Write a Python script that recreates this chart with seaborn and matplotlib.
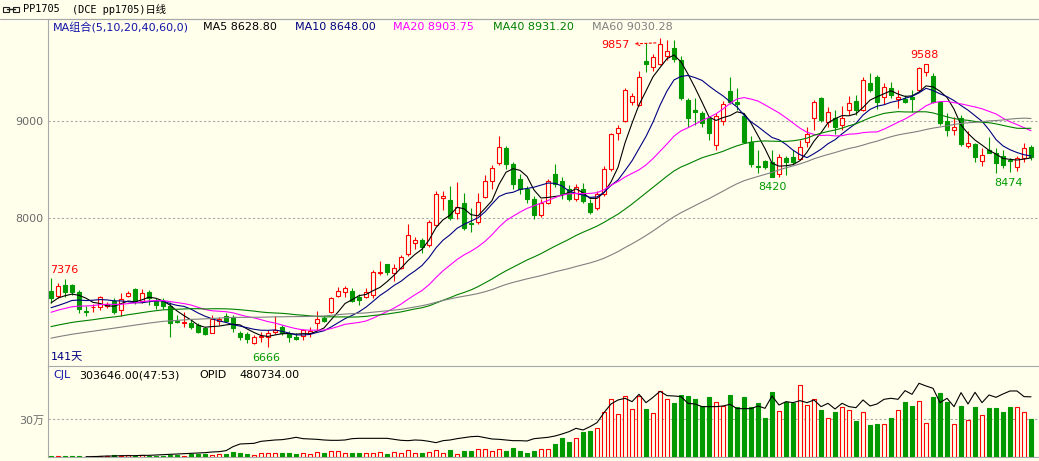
import numpy as np
import pandas as pd
import matplotlib
matplotlib.use("Agg")
import matplotlib.pyplot as plt
from matplotlib.patches import Rectangle
from matplotlib.lines import Line2D
from matplotlib.transforms import offset_copy
import seaborn as sns

# ---------------- data ----------------
opens = [7247, 7199, 7309, 7309, 7240, 7044, 7080, 7080, 7096, 7144,
         7052, 7199, 7268, 7144, 7240, 7144, 7144, 7093, 6938, 6921,
         6914, 6897, 6863, 6811, 6942, 6990, 6983, 6811, 6801, 6715,
         6770, 6777, 6825, 6873, 6801, 6777, 6787, 6811, 6914, 6973,
         7034, 7196, 7234, 7250, 7189, 7189, 7206, 7433, 7522, 7430,
         7481, 7626, 7740, 7773, 7722, 7928, 8203, 8186, 8049, 8151,
         7952, 7955, 8220, 8385, 8567, 8720, 8560, 8400, 8300, 8200,
         8030, 8150, 8450, 8380, 8300, 8200, 8300, 8150, 8100, 8250,
         8500, 8873, 9003, 9200, 9165, 9618, 9553, 9584, 9673, 9750,
         9629, 9216, 9113, 9079, 9028, 8750, 9003, 9310, 9200, 9052,
         8787, 8540, 8590, 8580, 8454, 8615, 8632, 8606, 8787, 9028,
         9234, 8993, 9028, 8959, 9113, 9206, 9113, 9389, 9450, 9250,
         9337, 9230, 9225, 9250, 9320, 9500, 9467, 9200, 9003, 8907,
         9028, 8742, 8763, 8590, 8700, 8667, 8640, 8600, 8523, 8615,
         8735]
highs = [7376, 7330, 7371, 7320, 7258, 7096, 7110, 7196, 7137, 7178,
         7224, 7247, 7275, 7265, 7258, 7172, 7172, 7137, 7000, 7028,
         6948, 6921, 6880, 7000, 6976, 7017, 7000, 6838, 6828, 6794,
         6828, 6845, 6990, 6900, 6835, 6811, 6852, 6880, 7041, 6990,
         7182, 7285, 7295, 7275, 7216, 7275, 7464, 7557, 7530, 7522,
         7619, 7938, 7808, 7790, 7980, 8278, 8282, 8330, 8368, 8255,
         8100, 8255, 8440, 8546, 8845, 8740, 8580, 8450, 8330, 8230,
         8200, 8400, 8560, 8420, 8340, 8350, 8360, 8200, 8280, 8540,
         8880, 8959, 9340, 9292, 9520, 9800, 9690, 9857, 9835, 9830,
         9670, 9234, 9234, 9100, 9045, 9080, 9210, 9457, 9340, 9080,
         8845, 8700, 8600, 8700, 8660, 8640, 8700, 8804, 8941, 9216,
         9250, 9140, 9110, 9150, 9260, 9268, 9457, 9490, 9470, 9390,
         9405, 9320, 9268, 9320, 9560, 9588, 9490, 9210, 9080, 9040,
         9060, 8900, 8770, 8720, 8830, 8720, 8700, 8620, 8640, 8770,
         8750]
lows = [7124, 7175, 7189, 7206, 7021, 6993, 7034, 7049, 7069, 7010,
        6993, 7182, 7110, 7127, 7103, 7062, 7062, 6776, 6920, 6880,
        6856, 6811, 6794, 6811, 6897, 6931, 6828, 6742, 6715, 6698,
        6726, 6666, 6800, 6790, 6726, 6742, 6742, 6777, 6845, 6924,
        7024, 7189, 7189, 7137, 7103, 7172, 7172, 7412, 7412, 7351,
        7471, 7612, 7680, 7636, 7705, 7921, 8083, 7979, 7990, 7877,
        7859, 7938, 8210, 8296, 8546, 8500, 8300, 8250, 8150, 7990,
        8010, 8140, 8320, 8200, 8170, 8180, 8150, 8040, 8080, 8230,
        8480, 8804, 8990, 9165, 9155, 9508, 9515, 9577, 9630, 9610,
        9220, 8941, 8959, 8941, 8804, 8700, 8960, 9175, 9113, 8780,
        8530, 8467, 8500, 8420, 8420, 8443, 8560, 8600, 8735, 8907,
        8990, 8940, 8870, 8907, 9060, 9060, 9107, 9300, 9120, 9170,
        9234, 9130, 9180, 9096, 9310, 9460, 9190, 8960, 8840, 8860,
        8740, 8720, 8575, 8540, 8670, 8467, 8510, 8474, 8480, 8580,
        8600]
closes = [7175, 7302, 7240, 7234, 7062, 7028, 7086, 7183, 7117, 7034,
          7162, 7224, 7137, 7224, 7172, 7103, 7093, 6914, 6925, 6931,
          6880, 6828, 6804, 6959, 6955, 6942, 6863, 6770, 6753, 6770,
          6784, 6818, 6845, 6818, 6777, 6753, 6845, 6835, 6955, 6942,
          7172, 7247, 7275, 7148, 7154, 7234, 7440, 7447, 7440, 7488,
          7601, 7825, 7770, 7704, 7962, 8244, 8227, 8003, 8110, 7894,
          7935, 8168, 8385, 8512, 8732, 8560, 8350, 8300, 8200, 8030,
          8150, 8380, 8350, 8250, 8200, 8320, 8180, 8060, 8250, 8500,
          8870, 8931, 9320, 9261, 9450, 9584, 9663, 9793, 9721, 9636,
          9234, 9028, 9096, 8976, 8873, 9052, 9175, 9200, 9172, 8787,
          8557, 8525, 8530, 8426, 8632, 8580, 8580, 8735, 8866, 9200,
          9010, 9096, 8942, 9028, 9190, 9113, 9423, 9320, 9200, 9347,
          9268, 9250, 9200, 9230, 9543, 9584, 9200, 8976, 8907, 8941,
          8763, 8770, 8633, 8650, 8670, 8570, 8546, 8585, 8615, 8718,
          8632]
# closes before the visible window (needed so the moving averages start as drawn)
warmup_closes = [6420, 6450, 6480, 6430, 6400, 6460, 6520, 6500, 6470, 6530,
                 6560, 6510, 6540, 6600, 6580, 6550, 6620, 6610, 6590, 6640,
                 6650, 6680, 6700, 6660, 6690, 6720, 6750, 6710, 6740, 6760,
                 6700, 6730, 6770, 6750, 6720, 6760, 6790, 6770, 6800, 6790,
                 6850, 6900, 6880, 6940, 6990, 7010, 6980, 7040, 7060, 7150,
                 7080, 6990, 6960, 7020, 7080, 7050, 7120, 7150, 7125]
# volume (CJL), thousands of lots
volume_k = [8, 5, 8, 8, 8, 3, 5, 5, 5, 16,
            5, 14, 11, 14, 11, 11, 8, 19, 14, 11,
            22, 22, 22, 14, 22, 22, 43, 35, 22, 19,
            29, 29, 29, 29, 29, 21, 29, 21, 43, 29,
            48, 48, 35, 32, 32, 32, 32, 40, 24, 40,
            32, 56, 32, 32, 40, 56, 32, 56, 21, 48,
            48, 61, 61, 48, 61, 48, 69, 48, 29, 48,
            61, 61, 101, 149, 120, 149, 200, 208, 229, 357,
            464, 344, 488, 381, 488, 384, 352, 525, 464, 432,
            496, 488, 464, 408, 480, 437, 405, 496, 400, 480,
            400, 432, 312, 519, 368, 440, 429, 575, 416, 461,
            376, 312, 360, 397, 373, 288, 357, 256, 264, 264,
            312, 376, 440, 408, 448, 272, 480, 512, 440, 264,
            408, 296, 400, 336, 392, 392, 360, 400, 400, 360,
            303.646]
# open interest (OPID), thousands of lots
nan = float("nan")
open_interest_k = [nan, nan, nan, nan, nan, 2.7, 2.7, 5.3, 8.0, 8.0,
                   10.7, 10.7, 10.7, 13.3, 13.3, 16.0, 18.6, 21.3, 24.0, 26.6,
                   29.3, 32.0, 34.6, 40.0, 42.6, 50.6, 82.6, 103.9, 106.6, 109.2,
                   125.2, 130.5, 135.9, 138.5, 146.5, 157.2, 146.5, 143.9, 141.2, 135.9,
                   133.2, 133.2, 135.9, 146.5, 149.2, 149.2, 149.2, 149.2, 149.2, 141.2,
                   133.2, 130.5, 135.9, 133.2, 125.2, 114.6, 130.5, 135.9, 146.5, 154.5,
                   162.5, 165.2, 154.5, 143.9, 141.2, 135.9, 130.5, 130.5, 127.9, 146.5,
                   151.8, 157.2, 167.8, 183.8, 202.5, 229.1, 215.8, 242.4, 274.4, 354.3,
                   423.6, 455.5, 468.9, 442.2, 500.8, 434.2, 476.9, 524.8, 490.2, 487.5,
                   482.2, 428.9, 423.6, 402.3, 402.3, 402.3, 407.6, 420.9, 386.3, 386.3,
                   386.3, 407.6, 388.9, 487.5, 415.6, 442.2, 434.2, 450.2, 434.2, 455.5,
                   402.3, 428.9, 383.6, 428.9, 402.3, 394.3, 455.5, 407.6, 423.6, 460.9,
                   468.9, 460.9, 530.1, 500.8, 588.7, 567.4, 548.8, 434.2, 468.9, 402.3,
                   514.2, 423.6, 516.8, 434.2, 495.5, 476.9, 503.5, 527.5, 527.5, 482.2,
                   480.734]
ma_windows = [5, 10, 20, 40, 60]
ma_colors = ["#000000", "#000080", "#FF00FF", "#008000", "#808080"]
price_ticks = [8000, 9000]
price_tick_labels = ["8000", "9000"]
vol_ticks = [300000]
vol_tick_labels = ["30万"]
title_code = "PP1705"
title_rest = "(DCE pp1705)日线"
legend_items = [("MA组合(5,10,20,40,60,0)", "#1414A8"), ("MA5 8628.80", "#000000"),
                ("MA10 8648.00", "#000080"), ("MA20 8903.75", "#FF00FF"),
                ("MA40 8931.20", "#008000"), ("MA60 9030.28", "#808080")]
sub_items = [("CJL", "#1414A8"), ("303646.00(47:53)", "#000000"),
             ("OPID", "#000000"), ("480734.00", "#000000")]
days_label = "141天"

# ---------------- style ----------------
BG = "#FFFFEC"
RED = "#FF0000"
GREEN = "#009A00"
LINE = "#A8A8A8"
TICKC = "#6A6A6A"
BAR_W = 0.6

sns.set_theme(style="white", rc={"axes.facecolor": BG, "figure.facecolor": BG,
                                 "savefig.facecolor": BG})
plt.rcParams["font.family"] = ["DejaVu Sans", "Noto Sans CJK SC"]
FS = 8

W, H = 1039, 461
fig = plt.figure(figsize=(W / 100, H / 100), dpi=100)


def fpos(x0, y0, x1, y1):
    return [x0 / W, 1 - y1 / H, (x1 - x0) / W, (y1 - y0) / H]


ax = fig.add_axes(fpos(48, 19, 1039, 366))
axv = fig.add_axes(fpos(48, 366, 1039, 457))

n = len(closes)
df = pd.DataFrame({"day": np.arange(n), "open": opens, "high": highs,
                   "low": lows, "close": closes,
                   "volume": np.array(volume_k) * 1000.0,
                   "oi": np.array(open_interest_k) * 1000.0})
up = (df["close"] >= df["open"]).to_numpy()
edge = np.where(up, RED, GREEN)
face = np.where(up, BG, GREEN)

# ---- price panel ----
for t in price_ticks:
    ax.axhline(t, color=LINE, lw=0.8, ls=(0, (2, 2)), zorder=1)
ax.vlines(df["day"], df["low"], df["high"], colors=edge, lw=0.8, zorder=3)
body_lo = np.minimum(df["open"], df["close"])
body_h = np.abs(df["close"] - df["open"])
ax.bar(df["day"], body_h, bottom=body_lo, width=BAR_W, color=face,
       edgecolor=edge, linewidth=0.8, zorder=4)

all_close = pd.Series(warmup_closes + closes, dtype=float)
for w, c in zip(ma_windows, ma_colors):
    ma = all_close.rolling(w).mean().iloc[-n:].to_numpy()
    sns.lineplot(x=df["day"], y=ma, ax=ax, color=c, lw=0.8, zorder=5)

ax.set_xlim(-0.43, 141.14)
ax.set_ylim(6474, 10051)
ax.set_xticks([])
ax.set_yticks(price_ticks)
ax.set_yticklabels(price_tick_labels)
ax.tick_params(axis="y", length=0, pad=3, labelsize=FS, labelcolor=TICKC)
ax.set_xlabel("")
ax.set_ylabel("")
for s in ["right", "bottom"]:
    ax.spines[s].set_visible(False)
for s in ["left", "top"]:
    ax.spines[s].set_color(LINE)
    ax.spines[s].set_linewidth(0.8)

# extreme-value labels
def mark(i, price, text, color, dx, dy, ha="center"):
    ax.annotate(text, xy=(i, price), xytext=(dx, dy), textcoords="offset pixels",
                ha=ha, va="center", color=color, fontsize=FS, zorder=6)

mark(0, highs[0], "7376", RED, -1, 8, ha="left")
mark(31, lows[31], "6666", GREEN, -2, -11)
mark(103, lows[103], "8420", GREEN, 0, -10)
mark(125, highs[125], "9588", RED, -2, 9)
mark(137, lows[137], "8474", GREEN, -2, -11)
i_top = int(np.argmax(highs))
tr = offset_copy(ax.transData, fig=fig, x=-3, y=-5, units="dots")
ax.annotate(str(highs[i_top]), xy=(i_top, highs[i_top]), xycoords=tr,
            xytext=(-27, -2), textcoords="offset pixels", ha="right", va="center",
            color=RED, fontsize=FS, zorder=6,
            arrowprops=dict(arrowstyle="<-, head_length=0.35, head_width=0.18",
                            color=RED, lw=0.8, linestyle=(0, (2, 2)),
                            shrinkA=1, shrinkB=0))

# ---- volume panel ----
axv.axhline(vol_ticks[0], color=LINE, lw=0.8, ls=(0, (2, 2)), zorder=1)
axv.bar(df["day"], df["volume"], width=BAR_W, color=face, edgecolor=edge,
        linewidth=0.8, zorder=3)
sns.lineplot(x=df["day"], y=df["oi"], ax=axv, color="black", lw=0.8, zorder=4)
axv.set_xlim(-0.43, 141.14)
axv.set_ylim(0, 727000)
axv.set_xticks([])
axv.set_yticks(vol_ticks)
axv.set_yticklabels(vol_tick_labels)
axv.tick_params(axis="y", length=0, pad=3, labelsize=FS, labelcolor=TICKC)
axv.set_xlabel("")
axv.set_ylabel("")
axv.spines["right"].set_visible(False)
for s in ["left", "top", "bottom"]:
    axv.spines[s].set_color(LINE)
    axv.spines[s].set_linewidth(0.8)

# ---- header / texts ----
fig.add_artist(Line2D([0, 1], [1 - 19.3 / H] * 2, color=LINE, lw=0.8))
# little link icon
for x0 in (3, 13):
    fig.add_artist(Rectangle((x0 / W, 1 - 12 / H), 6 / W, 5 / H, fill=False,
                             ec="#202020", lw=0.8))
fig.add_artist(Line2D([7 / W, 15 / W], [1 - 9.5 / H] * 2, color="#202020", lw=1.0))

mono = ["DejaVu Sans Mono", "Noto Sans CJK SC"]
fig.text(23 / W, 1 - 9.3 / H, title_code, family=mono, fontsize=7.4,
         va="center", ha="left", color="black")
fig.text(72 / W, 1 - 9.3 / H, title_rest, family=mono, fontsize=7.4,
         va="center", ha="left", color="black")

leg_x = [53, 203, 295, 393, 493, 592]
for (txt, col), x in zip(legend_items, leg_x):
    fig.text(x / W, 1 - 27.5 / H, txt, color=col, fontsize=FS, va="center", ha="left")

fig.text(51 / W, 1 - 357 / H, days_label, color="#000080", fontsize=FS,
         va="center", ha="left")

sub_x = [53, 79, 199, 239]
for (txt, col), x in zip(sub_items, sub_x):
    fig.text(x / W, 1 - 375.5 / H, txt, color=col, fontsize=FS, va="center", ha="left")

fig.savefig("out.png", dpi=100, facecolor=BG)
